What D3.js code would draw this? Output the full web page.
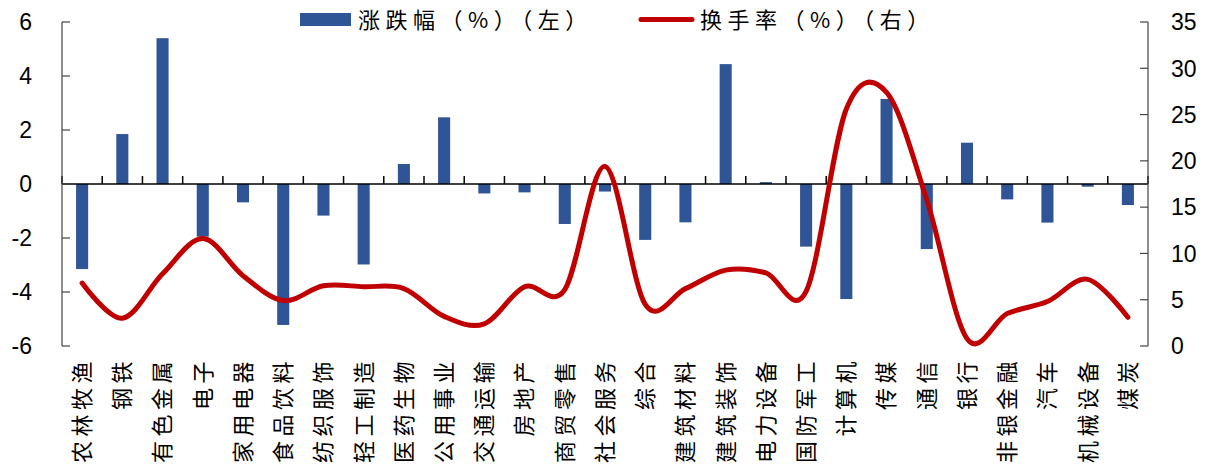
<!DOCTYPE html>
<html>
<head>
<meta charset="utf-8">
<script src="https://cdn.jsdelivr.net/npm/d3@7"></script>
<style>
  body { margin: 0; background: #fff; }
  text { font-family: "Liberation Sans", Arial, sans-serif; fill: #000; }
  .cjk { font-family: "Noto Sans CJK SC", sans-serif; }
</style>
</head>
<body>
<div id="chart"></div>
<script>
const width = 1210, height = 472;
const margin = { top: 22, right: 62, bottom: 126, left: 62 };

const categories = ["农林牧渔","钢铁","有色金属","电子","家用电器","食品饮料","纺织服饰","轻工制造","医药生物",
  "公用事业","交通运输","房地产","商贸零售","社会服务","综合","建筑材料","建筑装饰","电力设备","国防军工",
  "计算机","传媒","通信","银行","非银金融","汽车","机械设备","煤炭"];

const change = [-3.15, 1.85, 5.4, -1.95, -0.68, -5.22, -1.17, -2.98, 0.74,
  2.47, -0.35, -0.31, -1.48, -0.28, -2.07, -1.42, 4.44, 0.07, -2.32,
  -4.26, 3.15, -2.41, 1.53, -0.57, -1.43, -0.1, -0.78];

const turnover = [6.8, 3.0, 7.8, 11.6, 7.6, 4.9, 6.5, 6.4, 6.2,
  3.2, 2.4, 6.4, 6.1, 19.4, 4.5, 6.2, 8.2, 7.9, 5.9,
  25.6, 27.4, 15.8, 0.8, 3.5, 4.8, 7.2, 3.1];

const leftTicks = [-6, -4, -2, 0, 2, 4, 6];
const rightTicks = [0, 5, 10, 15, 20, 25, 30, 35];

const svg = d3.select("#chart").append("svg")
  .attr("width", width)
  .attr("height", height);

const x0 = margin.left, x1 = width - margin.right;
const yTop = margin.top, yBot = height - margin.bottom;

const x = d3.scaleBand()
  .domain(categories)
  .range([x0, x1])
  .paddingInner(0.7)
  .paddingOuter(0.35);

const step = x.step();
const cx = d => x(d) + x.bandwidth() / 2;

const yL = d3.scaleLinear().domain([-6, 6]).range([yBot, yTop]);
const yR = d3.scaleLinear().domain([0, 35]).range([yBot, yTop]);

// BARS
svg.append("g")
  .selectAll("rect")
  .data(categories)
  .join("rect")
  .attr("x", d => x(d))
  .attr("width", x.bandwidth())
  .attr("y", (d, i) => yL(Math.max(0, change[i])))
  .attr("height", (d, i) => Math.abs(yL(change[i]) - yL(0)))
  .attr("fill", "#2F5597");

// X AXIS at zero
const xAxis = svg.append("g");
xAxis.append("line")
  .attr("x1", x0).attr("x2", x1)
  .attr("y1", yL(0)).attr("y2", yL(0))
  .attr("stroke", "#000").attr("stroke-width", 1.5);
xAxis.selectAll(".tk")
  .data(d3.range(categories.length + 1))
  .join("line")
  .attr("x1", i => x0 + i * step).attr("x2", i => x0 + i * step)
  .attr("y1", yL(0) - 8).attr("y2", yL(0))
  .attr("stroke", "#000").attr("stroke-width", 1.5);

// LEFT AXIS
const gl = svg.append("g");
gl.append("line")
  .attr("x1", x0).attr("x2", x0).attr("y1", yTop).attr("y2", yBot)
  .attr("stroke", "#444").attr("stroke-width", 1.2);
gl.selectAll("line.t").data(leftTicks).join("line").attr("class", "t")
  .attr("x1", x0).attr("x2", x0 + 8)
  .attr("y1", d => yL(d)).attr("y2", d => yL(d))
  .attr("stroke", "#444").attr("stroke-width", 1.2);
gl.selectAll("text").data(leftTicks).join("text")
  .attr("x", 32).attr("y", d => yL(d)).attr("dy", "0.36em")
  .attr("text-anchor", "end")
  .attr("font-size", 23)
  .text(d => d);

// RIGHT AXIS
const gr = svg.append("g");
gr.append("line")
  .attr("x1", x1).attr("x2", x1).attr("y1", yTop).attr("y2", yBot)
  .attr("stroke", "#444").attr("stroke-width", 1.2);
gr.selectAll("line.t").data(rightTicks).join("line").attr("class", "t")
  .attr("x1", x1 - 8).attr("x2", x1)
  .attr("y1", d => yR(d)).attr("y2", d => yR(d))
  .attr("stroke", "#444").attr("stroke-width", 1.2);
gr.selectAll("text").data(rightTicks).join("text")
  .attr("x", 1171).attr("y", d => yR(d)).attr("dy", "0.36em")
  .attr("text-anchor", "start")
  .attr("font-size", 23)
  .text(d => d);

// LINE
const line = d3.line()
  .x((d, i) => cx(categories[i]))
  .y(d => yR(d))
  .curve(d3.curveCardinal.tension(0));

svg.append("path")
  .datum(turnover)
  .attr("fill", "none")
  .attr("stroke", "#C00000")
  .attr("stroke-width", 5)
  .attr("stroke-linecap", "round")
  .attr("stroke-linejoin", "round")
  .attr("d", line);

// CATEGORY LABELS
svg.append("g")
  .selectAll("text")
  .data(categories)
  .join("text")
  .attr("class", "cjk")
  .attr("transform", d => `translate(${cx(d)},357) rotate(-90)`)
  .attr("text-anchor", "end")
  .attr("dy", "0.36em")
  .attr("font-size", 22)
  .attr("letter-spacing", 4.5)
  .text(d => d);

// LEGEND
const lg = svg.append("g");
lg.append("rect")
  .attr("x", 300).attr("y", 13).attr("width", 51).attr("height", 13)
  .attr("fill", "#2F5597");
lg.append("text").attr("class", "cjk")
  .attr("x", 358).attr("y", 28).attr("font-size", 22).attr("letter-spacing", 5.5)
  .text("涨跌幅（%）（左）");
lg.append("line")
  .attr("x1", 641).attr("x2", 692).attr("y1", 19.5).attr("y2", 19.5)
  .attr("stroke", "#C00000").attr("stroke-width", 5).attr("stroke-linecap", "round");
lg.append("text").attr("class", "cjk")
  .attr("x", 700).attr("y", 28).attr("font-size", 22).attr("letter-spacing", 5.5)
  .text("换手率（%）（右）");
</script>
</body>
</html>
